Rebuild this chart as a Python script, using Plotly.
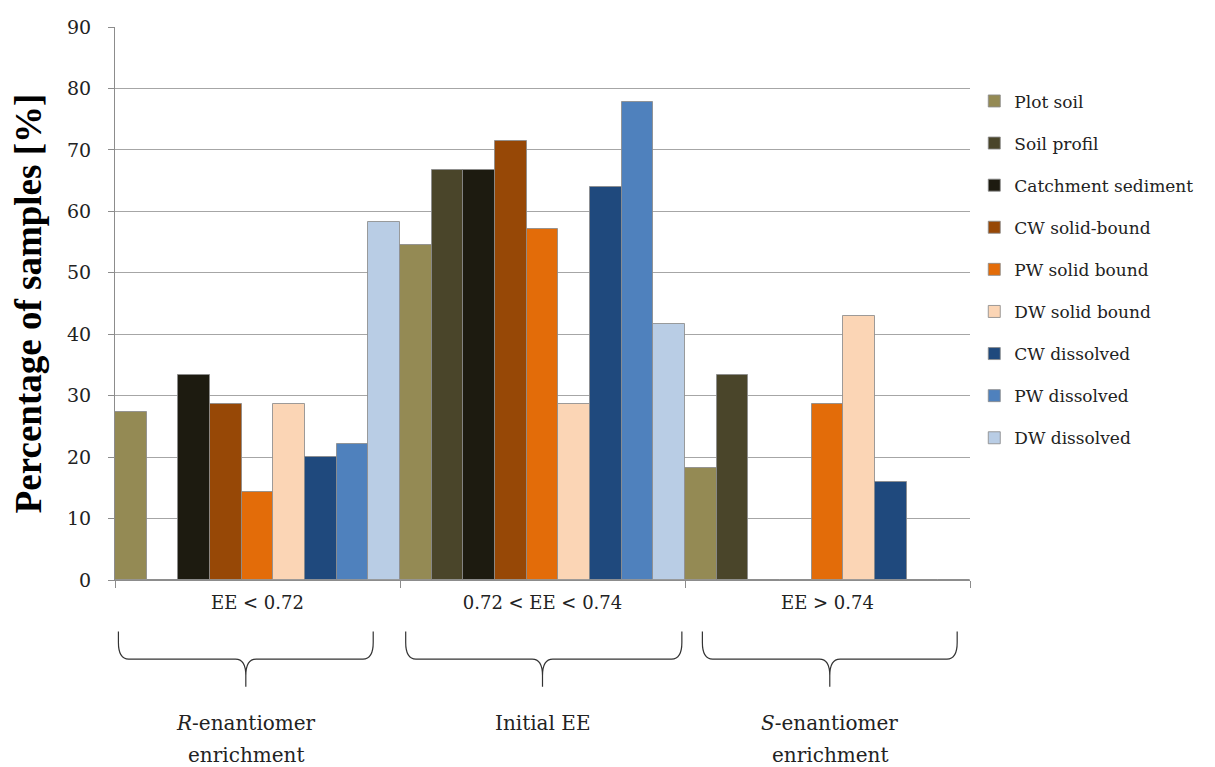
import plotly.graph_objects as go

categories = ["EE < 0.72", "0.72 < EE < 0.74", "EE > 0.74"]

series_names = [
  "Plot soil", "Soil profil", "Catchment sediment",
  "CW solid-bound", "PW solid bound", "DW solid bound",
  "CW dissolved", "PW dissolved", "DW dissolved",
]

plot_soil = [27.3, 54.5, 18.2]
soil_profil = [0, 66.7, 33.3]
catchment_sediment = [33.3, 66.7, 0]
cw_solid = [28.6, 71.4, 0]
pw_solid = [14.3, 57.1, 28.6]
dw_solid = [28.6, 28.6, 42.9]
cw_dissolved = [20.0, 64.0, 16.0]
pw_dissolved = [22.2, 77.8, 0]
dw_dissolved = [58.3, 41.7, 0]

series_values = [plot_soil, soil_profil, catchment_sediment, cw_solid, pw_solid,
                 dw_solid, cw_dissolved, pw_dissolved, dw_dissolved]

colors = ["#948A54", "#4A452A", "#1D1B10", "#974806", "#E36C09",
          "#FBD5B5", "#1F497D", "#4F81BD", "#B9CDE5"]

enrichment_labels = [
  ["<i>R</i>-enantiomer", "enrichment"],
  ["Initial EE"],
  ["<i>S</i>-enantiomer", "enrichment"],
]

FONT = "DejaVu Serif"
GRID = "#A6A6A6"
AXIS = "#8C8C8C"

fig = go.Figure()

for name, vals, col in zip(series_names, series_values, colors):
  fig.add_trace(go.Bar(
    x = categories,
    y = vals,
    name = name,
    legendgroup = name,
    marker = dict(color = col, line = dict(color = "rgba(140,140,140,0.85)", width = 1)),
  ))

# braces below the category labels (paper coords)
brace_spans = [(0.004, 0.302, 0.153), (0.340, 0.663, 0.500), (0.687, 0.985, 0.836)]
y_top, y_mid, y_tip = -0.093, -0.143, -0.193
r = 0.012
for x0, x1, xc in brace_spans:
  path = (f"M {x0},{y_top} L {x0},{y_mid + 0.03} Q {x0},{y_mid} {x0 + r},{y_mid} "
          f"L {xc - r},{y_mid} Q {xc},{y_mid} {xc},{y_mid - 0.03} L {xc},{y_tip} "
          f"M {xc},{y_mid - 0.03} Q {xc},{y_mid} {xc + r},{y_mid} "
          f"L {x1 - r},{y_mid} Q {x1},{y_mid} {x1},{y_mid + 0.03} L {x1},{y_top}")
  fig.add_shape(type = "path", path = path, xref = "paper", yref = "paper",
                line = dict(color = "#333333", width = 1.2))

for (x0, x1, xc), lines in zip(brace_spans, enrichment_labels):
  for i, txt in enumerate(lines):
    fig.add_annotation(
      text = txt, x = xc, y = -0.258 - i * 0.058, xref = "paper", yref = "paper",
      showarrow = False, xanchor = "center", yanchor = "middle",
      font = dict(family = FONT, size = 20, color = "#222222"),
    )

# page body has an 8px margin, so the figure is a bit smaller than the window
fig.update_layout(
  width = 1207, height = 759,
  barmode = "group", bargap = 0, bargroupgap = 0,
  paper_bgcolor = "white", plot_bgcolor = "white",
  margin = dict(l = 107, r = 245, t = 19, b = 187, autoexpand = False),
  font = dict(family = FONT, size = 18, color = "#222222"),
  showlegend = True,
  legend = dict(
    x = 1.005, y = 0.898, xanchor = "left", yanchor = "top",
    traceorder = "grouped", tracegroupgap = 17,
    font = dict(family = FONT, size = 17, color = "#222222"),
    itemwidth = 30,
  ),
  xaxis = dict(
    showline = True, linecolor = AXIS, linewidth = 1,
    ticks = "outside", tickson = "boundaries", ticklen = 7, tickcolor = AXIS,
    showgrid = False, tickfont = dict(size = 18), ticklabelstandoff = 6,
  ),
  yaxis = dict(
    range = [0, 90], dtick = 10,
    showline = True, linecolor = AXIS, linewidth = 1,
    ticks = "outside", ticklen = 6, tickcolor = AXIS,
    showgrid = True, gridcolor = GRID, gridwidth = 1,
    zeroline = False, ticklabelstandoff = 13,
    tickfont = dict(size = 19),
    title = dict(text = "<b>Percentage of samples [%]</b>",
                 font = dict(family = "Liberation Serif", size = 37, color = "#000000"),
                 standoff = 24),
  ),
)

fig.write_html("out.html")
